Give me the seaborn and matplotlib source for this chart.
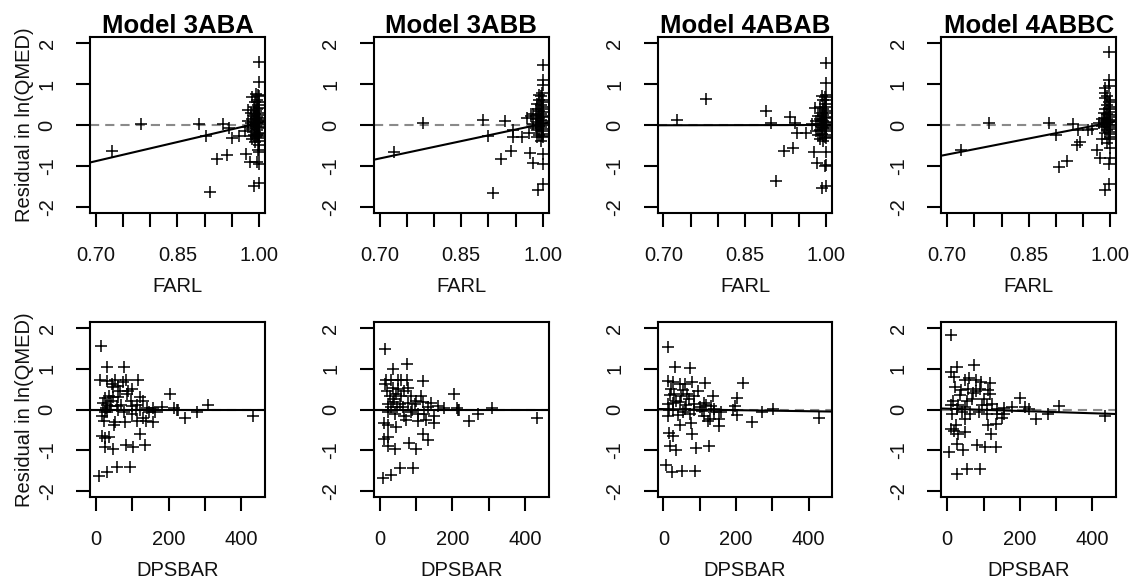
import numpy as np
import pandas as pd
import matplotlib
matplotlib.use("Agg")
import matplotlib.pyplot as plt
import seaborn as sns

sns.set_theme(style="white")
plt.rcParams["font.family"] = ["Liberation Sans", "DejaVu Sans"]

models = ["Model 3ABA", "Model 3ABB", "Model 4ABAB", "Model 4ABBC"]

# ---- residuals against FARL (top row) ----
farl_3aba = [0.729, 0.782, 0.890, 0.903, 0.909, 0.923, 0.933, 0.941, 0.944, 0.950, 0.964, 0.974, 0.976, 0.979, 0.984,
             1.0, 1.0, 1.0, 1.0, 1.0, 1.0, 1.0, 1.0, 1.0, 1.0, 1.0, 1.0, 1.0, 1.0, 1.0, 1.0, 1.0,
             0.998, 0.998, 0.998, 0.998, 0.998, 0.998, 0.998, 0.998,
             0.996, 0.996, 0.996, 0.996, 0.996, 0.996, 0.996,
             0.994, 0.994, 0.994, 0.994, 0.994,
             0.992, 0.992, 0.992, 0.992, 0.992,
             0.990, 0.990, 0.990, 0.990, 0.990,
             0.988, 0.988, 0.988, 0.988,
             0.985, 0.985, 0.985, 0.980, 0.980]
res_farl_3aba = [-0.63, 0.02, 0.02, -0.27, -1.64, -0.83, 0.03, -0.73, -0.08, -0.31, -0.27, -0.14, -0.71, 0.37, -0.90,
                 1.54, 1.05, 0.70, 0.55, 0.42, 0.30, 0.18, 0.10, 0.02, -0.08, -0.20, -0.28, -0.38, -0.48, -0.65, -0.94, -1.42,
                 0.72, 0.48, 0.25, 0.12, -0.05, -0.22, -0.32, -0.60,
                 0.62, 0.40, 0.20, 0.05, -0.12, -0.25, -0.90,
                 0.75, 0.35, 0.15, -0.02, -0.30,
                 0.55, 0.28, 0.08, -0.18, -0.42,
                 0.45, 0.22, 0.00, -0.25, -1.49,
                 0.68, 0.15, -0.10, -0.35,
                 0.30, 0.05, -0.28, -0.05, 0.10]

farl_3abb = [0.726, 0.779, 0.890, 0.900, 0.908, 0.923, 0.931, 0.941, 0.946, 0.946, 0.961, 0.971, 0.974, 0.976, 0.983, 0.992,
             1.0, 1.0, 1.0, 1.0, 1.0, 1.0, 1.0, 1.0, 1.0, 1.0, 1.0, 1.0, 1.0, 1.0, 1.0,
             0.998, 0.998, 0.998, 0.998, 0.998, 0.998, 0.998,
             0.996, 0.996, 0.996, 0.996, 0.996, 0.996,
             0.993, 0.993, 0.993, 0.993, 0.993, 0.993,
             0.990, 0.990, 0.990, 0.990, 0.990,
             0.987, 0.987, 0.987, 0.983, 0.983, 0.979]
res_farl_3abb = [-0.65, 0.06, 0.12, -0.27, -1.67, -0.84, 0.10, -0.63, -0.11, -0.30, -0.30, 0.16, -0.20, -0.68, -0.93, -1.59,
                 1.46, 1.10, 0.98, 0.62, 0.45, 0.32, 0.20, 0.10, 0.00, -0.10, -0.22, -0.30, -0.70, -0.94, -1.44,
                 0.78, 0.55, 0.38, 0.22, 0.05, -0.15, -0.28,
                 0.70, 0.48, 0.28, 0.12, -0.05, -0.38,
                 0.73, 0.60, 0.35, 0.18, -0.02, -0.25,
                 0.50, 0.25, 0.08, -0.12, -0.30,
                 0.40, 0.15, -0.08, 0.28, 0.02, 0.22]

farl_4abab = [0.725, 0.778, 0.889, 0.898, 0.907, 0.921, 0.932, 0.939, 0.942, 0.946, 0.962, 0.973, 0.977, 0.979, 0.982, 0.991, 0.999,
              1.0, 1.0, 1.0, 1.0, 1.0, 1.0, 1.0, 1.0, 1.0, 1.0, 1.0, 1.0, 1.0, 1.0,
              0.997, 0.997, 0.997, 0.997, 0.997, 0.997, 0.997, 0.997,
              0.994, 0.994, 0.994, 0.994, 0.994, 0.994,
              0.991, 0.991, 0.991, 0.991, 0.991,
              0.988, 0.988, 0.988, 0.988,
              0.985, 0.985, 0.985, 0.981, 0.981]
res_farl_4abab = [0.12, 0.63, 0.34, 0.06, -1.36, -0.63, 0.19, -0.57, 0.06, -0.19, -0.20, 0.02, -0.67, 0.41, -0.93, -1.54, -1.49,
                  1.52, 1.02, 0.72, 0.60, 0.45, 0.30, 0.18, 0.08, -0.05, -0.15, -0.25, -0.32, -0.65, -0.98,
                  0.68, 0.50, 0.35, 0.20, 0.05, -0.10, -0.30, -1.00,
                  0.62, 0.40, 0.25, 0.10, -0.08, -0.40,
                  0.70, 0.30, 0.12, -0.05, -0.22,
                  0.45, 0.15, -0.12, -0.35,
                  0.22, 0.02, -0.25, 0.10, -0.15]

farl_4abbc = [0.725, 0.777, 0.888, 0.900, 0.905, 0.920, 0.932, 0.938, 0.944, 0.940, 0.960, 0.966, 0.975, 0.981, 0.985, 0.990, 0.998,
              0.998, 0.998, 0.998, 0.998, 0.990, 0.990, 0.990,
              1.0, 1.0, 1.0, 1.0, 1.0, 1.0, 1.0, 1.0, 1.0, 1.0, 1.0,
              0.997, 0.997, 0.997, 0.997, 0.997, 0.997, 0.997,
              0.994, 0.994, 0.994, 0.994, 0.994, 0.994, 0.994,
              0.991, 0.991, 0.991, 0.991,
              0.988, 0.988, 0.988, 0.984, 0.984, 0.979]
res_farl_4abbc = [-0.61, 0.04, 0.06, -0.24, -1.03, -0.87, 0.02, -0.49, -0.41, -0.11, -0.11, -0.10, -0.61, -0.81, -0.33, -1.59, -1.44,
                  1.79, 1.10, 0.95, -0.95, 0.90, 0.77, 0.65,
                  0.60, 0.45, 0.32, 0.20, 0.10, 0.00, -0.10, -0.22, -0.30, -0.55, -0.80,
                  0.55, 0.38, 0.25, 0.12, -0.05, -0.18, -0.35,
                  0.70, 0.48, 0.28, 0.15, 0.02, -0.12, -0.45,
                  0.40, 0.18, 0.05, -0.20,
                  0.30, 0.10, -0.06, 0.15, -0.02, 0.05]

# ---- residuals against DPSBAR (bottom row) ----
dps_3aba = [14, 31, 77, 11, 31, 52, 75, 84, 117, 48, 66, 89, 98, 35, 48, 62, 122, 129, 204, 30, 38, 57, 70, 98, 112,
            140, 158, 181, 215, 223, 227, 310, 278, 245, 434, 22, 52, 80, 112, 137, 158, 16, 30, 77, 100, 131, 51,
            17, 26, 35, 122, 26, 47, 83, 103, 135, 7, 31, 57, 94, 20, 28, 25, 42, 60, 96, 110, 145, 122, 163, 45, 62, 85, 24]
res_dps_3aba = [1.55, 1.04, 1.04, 0.73, 0.71, 0.73, 0.67, 0.73, 0.73, 0.55, 0.46, 0.46, 0.50, 0.34, 0.30, 0.30, 0.30, 0.22, 0.37,
                0.12, 0.08, 0.08, 0.12, 0.08, 0.12, 0.03, 0.03, 0.05, 0.03, 0.00, 0.00, 0.10, -0.06, -0.22, -0.15, -0.27,
                -0.31, -0.31, -0.27, -0.29, -0.31, -0.15, -0.07, -0.07, -0.12, -0.20, -0.39, -0.65, -0.71, -0.67, -0.61,
                -0.92, -0.96, -0.86, -0.92, -0.88, -1.64, -1.54, -1.42, -1.42, 0.16, 0.04, 0.28, 0.20, -0.02, 0.20, -0.02,
                -0.07, -0.02, -0.05, 0.62, 0.58, 0.38, -0.05]

dps_3abb = [14.5, 36, 76, 14.5, 18, 32, 50, 59, 75, 118, 36, 50, 78, 27, 45, 59, 86, 114, 205, 23, 36, 55, 78, 96, 119,
            142, 160, 178, 215, 219, 212, 309, 272, 247, 433, 23, 41, 68, 105, 123, 151, 13, 23, 46, 73, 105, 128, 151,
            13, 24, 118, 134, 23, 41, 80, 101, 8, 30, 57, 91, 30, 65, 88, 40, 68, 100, 132, 20, 48, 85]
res_dps_3abb = [1.49, 1.00, 1.12, 0.63, 0.73, 0.73, 0.73, 0.73, 0.73, 0.71, 0.53, 0.50, 0.53, 0.34, 0.37, 0.34, 0.34, 0.34, 0.37,
                0.14, 0.18, 0.14, 0.16, 0.14, 0.18, 0.16, 0.08, 0.03, 0.00, -0.02, 0.03, 0.03, -0.10, -0.29, -0.20,
                -0.07, -0.10, -0.15, -0.10, -0.12, -0.15, -0.33, -0.39, -0.43, -0.26, -0.29, -0.26, -0.33,
                -0.72, -0.68, -0.60, -0.76, -0.90, -0.97, -0.82, -0.97, -1.69, -1.61, -1.44, -1.44,
                0.05, 0.05, 0.00, 0.25, 0.45, 0.22, 0.05, 0.45, 0.05, -0.05]

dps_4abab = [11.5, 32, 73, 12, 26, 45, 58, 78, 114.5, 220, 202, 137, 17, 30, 48, 66, 85, 13, 26, 45, 62, 85, 112, 117,
             140, 159, 196, 192, 203, 271, 303, 243, 429, 26, 53, 84, 107, 140, 12, 40, 72, 113, 127, 154, 45, 77, 123,
             154, 14, 26, 78, 18, 35, 91, 126, 6, 23, 51, 87, 20, 55, 95, 35, 70, 100, 15, 60, 130]
res_dps_4abab = [1.53, 1.04, 1.01, 0.71, 0.67, 0.63, 0.63, 0.67, 0.65, 0.64, 0.28, 0.34, 0.35, 0.37, 0.33, 0.37, 0.33,
                 0.14, 0.16, 0.18, 0.12, 0.14, 0.16, 0.10, 0.02, -0.05, 0.08, -0.02, -0.13, -0.07, 0.02, -0.31, -0.21,
                 -0.02, -0.05, -0.02, -0.03, -0.05, -0.15, -0.13, -0.12, -0.15, -0.23, -0.23, -0.37, -0.33, -0.29,
                 -0.41, -0.57, -0.65, -0.61, -0.90, -1.00, -0.95, -0.90, -1.36, -1.54, -1.50, -1.50,
                 0.50, 0.48, 0.45, 0.22, 0.25, 0.05, 0.00, 0.02, 0.08]

dps_4abbc = [10, 9, 27, 73, 18, 48, 60, 78, 94, 118, 39, 57, 80, 90, 113, 118, 201, 215, 307, 17, 31, 54, 68, 96, 110,
             124, 9, 27, 50, 138, 156, 179, 64, 87, 110, 138, 157, 245, 278, 434, 13, 49, 24, 49, 31, 113, 122, 135,
             9, 18, 27, 5, 43, 83, 103, 135, 27, 54, 91, 35, 70, 22, 100, 40, 150, 225]
res_dps_4abbc = [1.82, 0.92, 1.04, 1.10, 0.79, 0.73, 0.78, 0.72, 0.67, 0.65, 0.48, 0.50, 0.46, 0.50, 0.47, 0.37, 0.29,
                 0.06, 0.08, 0.20, 0.12, 0.20, 0.25, 0.10, 0.12, 0.14, 0.10, 0.02, 0.06, 0.02, 0.04, 0.06,
                 -0.10, -0.07, -0.10, -0.12, -0.10, -0.23, -0.10, -0.15, -0.12, -0.23, -0.39, -0.56, -0.60,
                 -0.39, -0.61, -0.35, -0.47, -0.52, -0.84, -1.05, -1.00, -0.86, -0.92, -0.92, -1.58, -1.45, -1.45,
                 0.35, 0.40, 0.55, 0.25, -0.05, -0.20, 0.02]

# fitted trend lines: intercept and slope of residual on each covariate
farl_fit_intercept = [-3.05, -2.79, -0.02, -2.54]
farl_fit_slope = [3.10, 2.82, 0.02, 2.60]
dps_fit_intercept = [0.0, 0.0, 0.01, 0.02]
dps_fit_slope = [0.0, 0.0, -0.00013, -0.00028]

farl_x = [farl_3aba, farl_3abb, farl_4abab, farl_4abbc]
farl_y = [res_farl_3aba, res_farl_3abb, res_farl_4abab, res_farl_4abbc]
dps_x = [dps_3aba, dps_3abb, dps_4abab, dps_4abbc]
dps_y = [res_dps_3aba, res_dps_3abb, res_dps_4abab, res_dps_4abbc]

farl_ticks = [0.70, 0.75, 0.80, 0.85, 0.90, 0.95, 1.00]
farl_ticklabels = ["0.70", "", "", "0.85", "", "", "1.00"]
dps_ticks = [0, 100, 200, 300, 400]
dps_ticklabels = ["0", "", "200", "", "400"]
y_ticks = [-2, -1, 0, 1, 2]
y_ticklabels = ["-2", "-1", "0", "1", "2"]

W, H = 1135, 579
fig = plt.figure(figsize=(W / 100, H / 100), dpi=100)
fig.patch.set_facecolor("white")

col_left = [90, 373.75, 657.5, 941.25]
ax_w = 175
rows = [(37, 213), (322, 497)]
farl_lim = (0.68896, 1.0111)
dps_lim = (-16.55, 466.2)
y_lim = (-2.146, 2.146)

FS = 14.5
TXT = "#111111"


def style_axes(ax, xticks, xticklabels, xlim):
    ax.set_xlim(*xlim)
    ax.set_ylim(*y_lim)
    ax.set_facecolor("white")
    ax.set_xticks(xticks)
    ax.set_xticklabels(xticklabels)
    ax.set_yticks(y_ticks)
    ax.set_yticklabels(y_ticklabels, rotation=90, va="center")
    ax.tick_params(axis="both", direction="out", length=10, width=1.5, color="black",
                   labelsize=FS, labelcolor=TXT, bottom=True, left=True)
    ax.tick_params(axis="x", pad=14)
    ax.tick_params(axis="y", pad=14)
    for sp in ax.spines.values():
        sp.set_visible(True)
        sp.set_color("black")
        sp.set_linewidth(1.5)
    ax.grid(False)


for i, name in enumerate(models):
    for r, (top, bottom) in enumerate(rows):
        ax = fig.add_axes([col_left[i] / W, (H - bottom) / H, ax_w / W, (bottom - top) / H])
        if r == 0:
            xs, ys, xlim = farl_x[i], farl_y[i], farl_lim
            a, b = farl_fit_intercept[i], farl_fit_slope[i]
            ticks, labels, xlab = farl_ticks, farl_ticklabels, "FARL"
        else:
            xs, ys, xlim = dps_x[i], dps_y[i], dps_lim
            a, b = dps_fit_intercept[i], dps_fit_slope[i]
            ticks, labels, xlab = dps_ticks, dps_ticklabels, "DPSBAR"

        ax.axhline(0, color="#8a8a8a", lw=1.5, dashes=(4.4, 2.9), zorder=1)
        df = pd.DataFrame({"x": xs, "res": ys})
        sns.scatterplot(data=df, x="x", y="res", ax=ax, marker="+", color="black",
                        s=72, linewidth=1.1, zorder=2, legend=False)
        fit = pd.DataFrame({"x": list(xlim)})
        fit["y"] = a + b * fit["x"]
        sns.lineplot(data=fit, x="x", y="y", ax=ax, color="black", lw=1.5,
                     estimator=None, sort=False, zorder=3, legend=False)

        style_axes(ax, ticks, labels, xlim)
        ax.set_xlabel(xlab, fontsize=FS, color=TXT, va="center")
        ax.xaxis.set_label_coords(0.5, -0.42)
        if i == 0:
            ax.set_ylabel("Residual in ln(QMED)", fontsize=FS, color=TXT, va="center")
            ax.yaxis.set_label_coords(-0.375, 0.5)
        else:
            ax.set_ylabel("")
        if r == 0:
            ax.set_title(name, fontsize=18.5, fontweight="bold", pad=3, color="black")

fig.savefig("out.png", dpi=100, facecolor="white")
